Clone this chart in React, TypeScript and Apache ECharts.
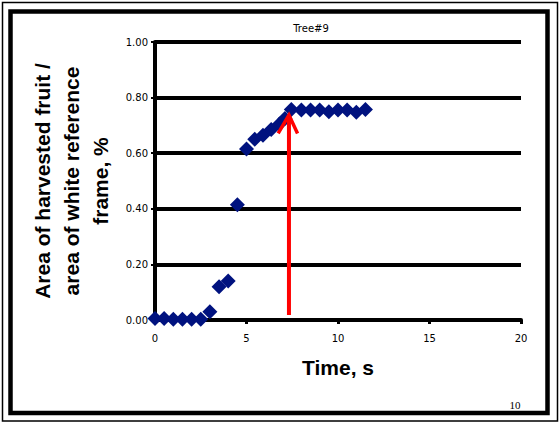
import React, { useEffect, useRef } from "react";
import * as echarts from "echarts";

// Time (s) and area ratio
const times = [0, 0.5, 1.0, 1.5, 2.0, 2.5, 3.0, 3.5, 4.0, 4.5, 5.0, 5.45, 5.9, 6.35, 6.8, 7.1, 7.45, 8.0, 8.5, 9.0, 9.5, 10.0, 10.5, 11.0, 11.5];
const ratios = [0.005, 0.005, 0.003, 0.003, 0.003, 0.003, 0.03, 0.12, 0.14, 0.415, 0.615, 0.65, 0.665, 0.685, 0.705, 0.725, 0.757, 0.755, 0.755, 0.755, 0.749, 0.755, 0.755, 0.747, 0.757];

// Red arrow annotation (data coordinates)
const arrowShaft = [[7.32, 0.018], [7.32, 0.735]];
const arrowHead = [[6.73, 0.671], [7.32, 0.737], [7.79, 0.671]];

const yTicks = [0, 0.2, 0.4, 0.6, 0.8, 1.0];
const xTicks = [0, 5, 10, 15, 20];

const chartTitle = "Tree#9";
const xName = "Time, s";
const yName = "Area of harvested fruit /\narea of white reference\nframe, %";
const pageNumber = "10";

export default function App() {
  const ref = useRef<HTMLDivElement>(null);
  useEffect(() => {
    document.body.style.margin = "0";
    if (!ref.current) return;
    const chart = echarts.init(ref.current, null, { renderer: "svg" });
    const points = times.map((t, i) => [t, ratios[i]]);
    chart.setOption({
      animation: false,
      backgroundColor: "#ffffff",
      title: {
        text: chartTitle,
        left: 306,
        top: 18,
        textAlign: "center",
        textStyle: { fontFamily: "DejaVu Sans", fontSize: 10, fontWeight: "normal", color: "#000" },
      },
      grid: { left: 155, right: 39, top: 42, bottom: 104 },
      xAxis: {
        type: "value",
        min: xTicks[0],
        max: xTicks[xTicks.length - 1],
        interval: 5,
        name: xName,
        nameLocation: "middle",
        nameGap: 37,
        nameTextStyle: { fontFamily: "Liberation Sans", fontWeight: "bold", fontSize: 21, color: "#000" },
        axisLine: { show: true, lineStyle: { color: "#000", width: 4 } },
        axisTick: { show: true, length: 4, lineStyle: { color: "#000", width: 3 } },
        axisLabel: { fontFamily: "DejaVu Sans", fontSize: 10, color: "#000", margin: 13 },
        splitLine: { show: false },
      },
      yAxis: {
        type: "value",
        min: yTicks[0],
        max: yTicks[yTicks.length - 1],
        interval: 0.2,
        name: yName,
        nameLocation: "middle",
        nameRotate: 90,
        nameGap: 39,
        nameTextStyle: { fontFamily: "Liberation Sans", fontWeight: "bold", fontSize: 21, color: "#000", lineHeight: 29, align: "center" },
        axisLine: { show: true, lineStyle: { color: "#000", width: 4 } },
        axisTick: { show: true, length: 4, lineStyle: { color: "#000", width: 2 } },
        axisLabel: { fontFamily: "DejaVu Sans", fontSize: 10, color: "#000", margin: 7, formatter: (v: number) => v.toFixed(2) },
        splitLine: { show: true, lineStyle: { color: "#000", width: 4 } },
      },
      series: [
        {
          type: "scatter",
          data: points,
          symbol: "diamond",
          symbolSize: 15,
          itemStyle: { color: "#00127f", opacity: 1 },
          z: 3,
        },
        {
          type: "line",
          data: arrowShaft,
          symbol: "none",
          lineStyle: { color: "#ff0000", width: 4 },
          z: 5,
        },
        {
          type: "line",
          data: arrowHead,
          symbol: "none",
          lineStyle: { color: "#ff0000", width: 3.5, join: "miter" },
          z: 5,
        },
      ],
      graphic: [
        {
          type: "rect",
          shape: { x: 2.5, y: 2.5, width: 555, height: 418.5 },
          style: { fill: "none", stroke: "#000", lineWidth: 1.5 },
          silent: true,
        },
        {
          type: "rect",
          shape: { x: 10.5, y: 11.5, width: 537, height: 401.5 },
          style: { fill: "none", stroke: "#000", lineWidth: 4.5 },
          silent: true,
        },
        {
          type: "text",
          x: 515,
          y: 405,
          style: { text: pageNumber, font: "11px 'Liberation Serif'", fill: "#000", align: "center", verticalAlign: "middle" },
          silent: true,
        },
      ],
    });
    return () => chart.dispose();
  }, []);
  return <div ref={ref} style={{ width: 560, height: 424 }} />;
}
